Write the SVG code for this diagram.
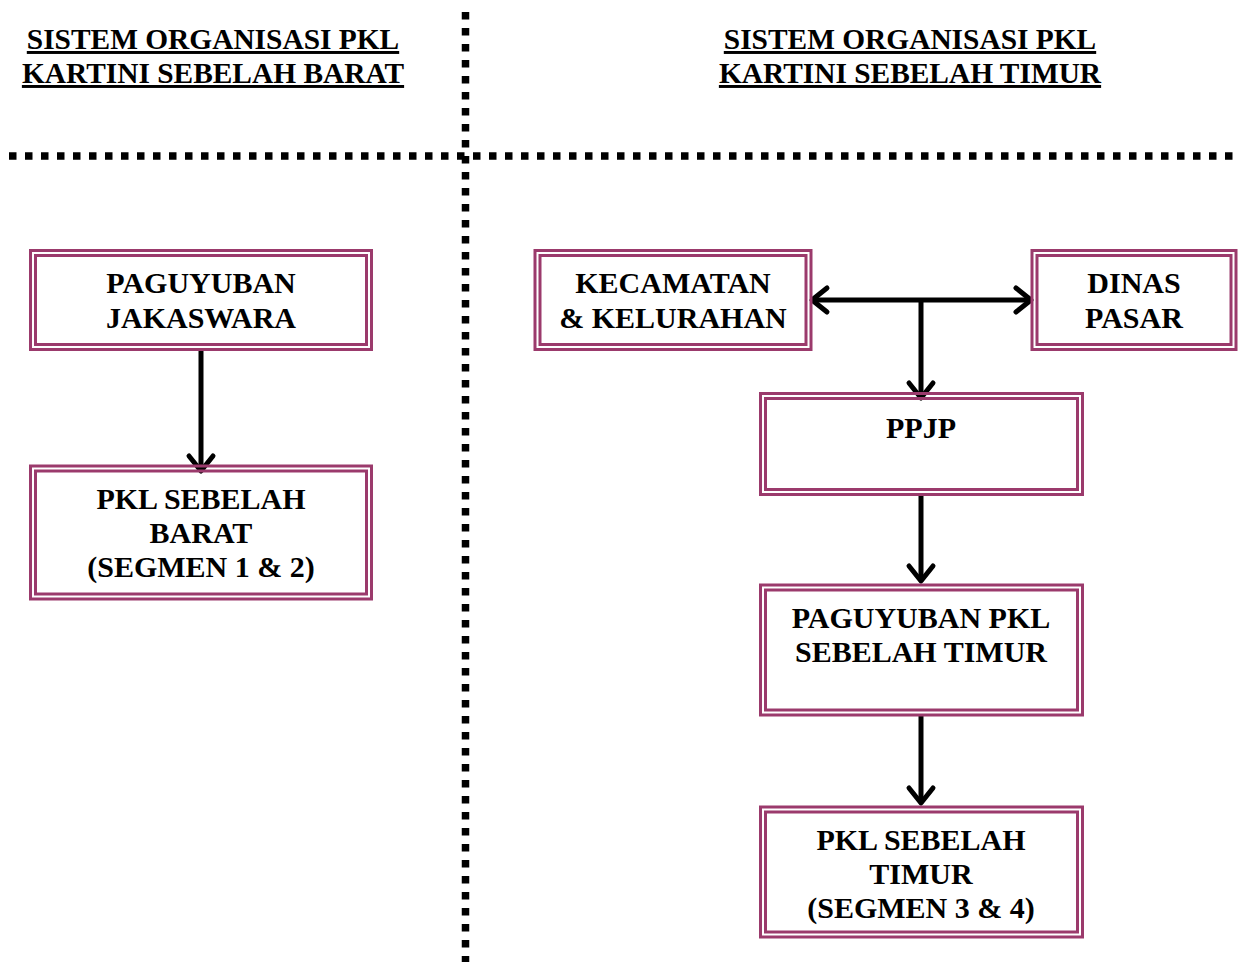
<svg xmlns="http://www.w3.org/2000/svg" width="1242" height="962" viewBox="0 0 1242 962">
<style>
.t{font-family:"Liberation Serif","Times New Roman",serif;font-weight:bold;font-size:30px;fill:#000;text-anchor:middle}
.u{text-decoration:underline;font-size:29.4px}
.b{fill:none;stroke:#9b3a6c;stroke-width:3}
.c{fill:none;stroke:#000;stroke-width:5}
.d{fill:none;stroke:#000;stroke-width:7.5;stroke-dasharray:7.5 8.5}
</style>
<defs>
<marker id="ah" markerUnits="userSpaceOnUse" orient="auto-start-reverse" refX="0" refY="0" markerWidth="40" markerHeight="40" overflow="visible">
<path d="M-15,-12 L0,0 L-15,12" fill="none" stroke="#000" stroke-width="5" stroke-linecap="round" stroke-linejoin="round"/>
</marker>
</defs>
<rect width="1242" height="962" fill="#fff"/>
<g id="dividers">
<line class="d" x1="9" y1="156" x2="1235" y2="156"/>
<line class="d" x1="465.5" y1="12" x2="465.5" y2="962"/>
</g>
<g id="titles">
<text class="t u" x="213" y="49">SISTEM ORGANISASI PKL</text>
<text class="t u" x="213" y="83">KARTINI SEBELAH BARAT</text>
<text class="t u" x="910" y="49">SISTEM ORGANISASI PKL</text>
<text class="t u" x="910" y="83">KARTINI SEBELAH TIMUR</text>
</g>
<g id="connectors">
<line class="c" x1="201" y1="350" x2="201" y2="471" marker-end="url(#ah)"/>
<line class="c" x1="812" y1="300" x2="1031" y2="300" marker-start="url(#ah)" marker-end="url(#ah)"/>
<line class="c" x1="921" y1="300" x2="921" y2="398" marker-end="url(#ah)"/>
<line class="c" x1="921" y1="494" x2="921" y2="581" marker-end="url(#ah)"/>
<line class="c" x1="921" y1="715" x2="921" y2="803" marker-end="url(#ah)"/>
</g>
<g id="paguyuban-jakaswara">
<rect class="b" x="30.5" y="250.5" width="341" height="99"/>
<rect class="b" x="35.5" y="255.5" width="331" height="89"/>
<text class="t" x="201" y="293">PAGUYUBAN</text>
<text class="t" x="201" y="327.5">JAKASWARA</text>
</g>
<g id="pkl-barat">
<rect class="b" x="30.5" y="466" width="341" height="133"/>
<rect class="b" x="35.5" y="471" width="331" height="123"/>
<text class="t" x="201" y="509">PKL SEBELAH</text>
<text class="t" x="201" y="543">BARAT</text>
<text class="t" x="201" y="577">(SEGMEN 1 &amp; 2)</text>
</g>
<g id="kecamatan">
<rect class="b" x="535" y="250.5" width="276" height="99"/>
<rect class="b" x="540" y="255.5" width="266" height="89"/>
<text class="t" x="673" y="293">KECAMATAN</text>
<text class="t" x="673" y="327.5">&amp; KELURAHAN</text>
</g>
<g id="dinas-pasar">
<rect class="b" x="1032" y="250.5" width="204" height="99"/>
<rect class="b" x="1037" y="255.5" width="194" height="89"/>
<text class="t" x="1134" y="293">DINAS</text>
<text class="t" x="1134" y="327.5">PASAR</text>
</g>
<g id="ppjp">
<rect class="b" x="760.5" y="393.5" width="322" height="101"/>
<rect class="b" x="765.5" y="398.5" width="312" height="91"/>
<text class="t" x="921" y="438">PPJP</text>
</g>
<g id="paguyuban-timur">
<rect class="b" x="760.5" y="585" width="322" height="130"/>
<rect class="b" x="765.5" y="590" width="312" height="120"/>
<text class="t" x="921" y="628">PAGUYUBAN PKL</text>
<text class="t" x="921" y="662">SEBELAH TIMUR</text>
</g>
<g id="pkl-timur">
<rect class="b" x="760.5" y="807" width="322" height="130"/>
<rect class="b" x="765.5" y="812" width="312" height="120"/>
<text class="t" x="921" y="850">PKL SEBELAH</text>
<text class="t" x="921" y="884">TIMUR</text>
<text class="t" x="921" y="918">(SEGMEN 3 &amp; 4)</text>
</g>
</svg>
